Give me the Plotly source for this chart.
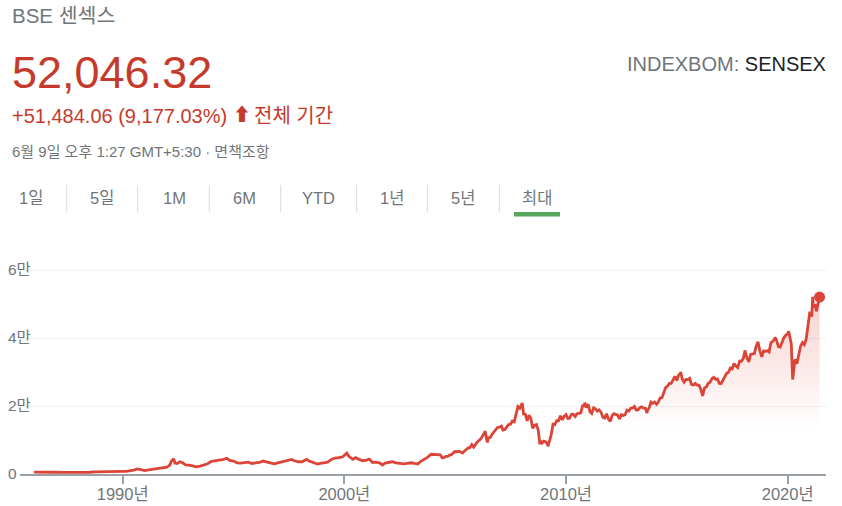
import pandas as pd
import plotly.graph_objects as go

# ---------------- data ----------------
early_dates = ["1986-01-02","1986-04-01","1986-07-01","1986-10-01","1987-01-01","1987-04-01","1987-07-01","1987-10-01",
               "1988-01-01","1988-04-01","1988-07-01","1988-10-01","1989-01-01","1989-04-01","1989-07-01","1989-10-01",
               "1990-01-01","1990-03-01","1990-05-01","1990-07-01","1990-09-01","1990-11-01","1991-01-01","1991-03-01",
               "1991-05-01","1991-07-01","1991-09-01","1991-11-01","1992-01-01","1992-02-15","1992-03-15","1992-04-22",
               "1992-05-10","1992-06-15","1992-08-01","1992-09-15","1992-11-01","1993-01-01","1993-03-01","1993-05-01",
               "1993-07-01","1993-09-01","1993-11-01","1994-01-01","1994-03-01","1994-05-01","1994-07-01","1994-09-12",
               "1994-11-01","1995-01-01","1995-03-01","1995-05-01","1995-07-01","1995-09-01","1995-11-01","1996-01-01",
               "1996-03-01","1996-05-01","1996-07-01","1996-09-01","1996-11-01","1997-01-01","1997-03-01","1997-05-01",
               "1997-07-01","1997-08-15","1997-10-01","1997-12-01","1998-02-01","1998-04-20","1998-06-01","1998-08-01",
               "1998-10-15","1998-12-01","1999-02-01","1999-04-01","1999-06-01","1999-08-01","1999-10-01","1999-12-01",
               "2000-02-11","2000-03-15","2000-05-20","2000-07-01","2000-09-01","2000-11-01","2001-01-01","2001-02-15",
               "2001-04-10","2001-06-01","2001-08-01","2001-09-21","2001-11-01","2002-01-01","2002-03-01","2002-05-01",
               "2002-07-01","2002-09-01","2002-11-01","2003-01-01","2003-03-01","2003-04-25","2003-06-01","2003-08-01",
               "2003-10-01","2003-12-01"]
early_values = [562, 600, 640, 560, 520, 480, 470, 440,
                400, 440, 520, 620, 690, 720, 780, 760,
                800, 780, 900, 1150, 1500, 1150, 1000, 1200,
                1350, 1400, 1750, 1850, 2000, 2600, 3800, 4467,
                3200, 3100, 3600, 3300, 2700, 2600, 2300, 2100,
                2300, 2600, 3000, 3700, 3800, 3900, 4200, 4600,
                4000, 3800, 3300, 3200, 3400, 3500, 3100, 3200,
                3400, 3800, 3600, 3300, 3000, 3300, 3600, 3800,
                4200, 4300, 3900, 3600, 3600, 4300, 3800, 3300,
                2900, 3100, 3300, 3500, 4300, 4700, 4800, 5000,
                6150, 5200, 4300, 4800, 4300, 3900, 4100, 4400,
                3400, 3500, 3300, 2650, 3200, 3300, 3600, 3300,
                3100, 3000, 3100, 3300, 3100, 2950, 3600, 4200,
                4900, 5800]

monthly_start = "2004-01-31"
monthly_values = [
    5696, 5667, 5591, 5655, 4760, 4795, 5170, 5192, 5584, 5672, 6234, 6603,
    6556, 6714, 6493, 6154, 6715, 7194, 7635, 7805, 8634, 7892, 8789, 9398,
    9920, 10370, 11280, 12043, 10399, 10609, 10744, 11699, 12454, 12962, 13696, 13787,
    14091, 12938, 13072, 13872, 14544, 14651, 15551, 15319, 17291, 19838, 19363, 20287,
    17649, 17579, 15644, 17287, 16416, 13462, 14356, 14565, 12860, 9788, 9093, 9647,
    9424, 8892, 9709, 11403, 14625, 14494, 15670, 15667, 17127, 15896, 16926, 17465,
    16358, 16430, 17528, 17559, 16945, 17701, 17868, 17971, 20069, 20032, 19521, 20509,
    18328, 17823, 19445, 19136, 18503, 18846, 18197, 16677, 16454, 17705, 16123, 15455,
    17194, 17753, 17404, 17319, 16219, 17430, 17236, 17430, 18763, 18505, 19340, 19427,
    19895, 18862, 18836, 19504, 19760, 19396, 19346, 18620, 19380, 21165, 20792, 21171,
    20514, 21120, 22386, 22418, 24217, 25414, 25895, 26638, 26631, 27866, 28694, 27499,
    29183, 29362, 27957, 27011, 27828, 27781, 28115, 26283, 26155, 26657, 26146, 26118,
    24871, 23002, 25342, 25607, 26668, 26999, 28052, 28452, 27866, 27930, 26653, 26626,
    27656, 28743, 29621, 29918, 31146, 30922, 32515, 31730, 31284, 33213, 33149, 34057,
    35965, 34184, 32969, 35160, 35322, 35423, 37607, 38645, 36227, 34442, 36194, 36068,
    36257, 35867, 38673, 39032, 39714, 39395, 37481, 37333, 38667, 40129, 40794, 41254,
    40723, 38297, 29468, 33717, 32424, 34916, 37607, 38628, 38068, 39614, 44150, 47751,
    46286, 49100, 49509, 48782, 51937]

extreme_dates = ["2006-05-10", "2006-06-14", "2008-01-10", "2008-10-27", "2009-03-09", "2010-11-05",
                 "2013-08-28", "2015-03-04", "2016-02-29", "2018-01-29", "2018-08-29", "2019-06-03",
                 "2020-01-17", "2020-03-23", "2021-02-16", "2021-04-19"]
extreme_values = [12600, 9300, 20873, 8700, 8160, 21005,
                  17900, 30024, 22950, 36400, 38900, 40200,
                  42000, 27800, 52100, 47900]

last_date = "2021-06-09"
last_value = 52046.32

y_tick_vals = [0, 20000, 40000, 60000]
y_tick_text = ["0", "2만", "4만", "6만"]
x_tick_vals = ["1990-01-01", "2000-01-01", "2010-01-01", "2020-01-01"]
x_tick_text = ["1990년", "2000년", "2010년", "2020년"]

title_text = "BSE 센섹스"
price_text = "52,046.32"
change_text = "+51,484.06 (9,177.03%)"
period_text = "전체 기간"
time_text = "6월 9일 오후 1:27 GMT+5:30 · 면책조항"
exchange_text = "INDEXBOM:"
ticker_text = "SENSEX"
tab_labels = ["1일", "5일", "1M", "6M", "YTD", "1년", "5년", "최대"]

# ---------------- assemble series ----------------
monthly_dates = pd.date_range(monthly_start, periods=len(monthly_values), freq="ME")
df = pd.concat([
    pd.DataFrame({"d": pd.to_datetime(early_dates), "v": early_values}),
    pd.DataFrame({"d": monthly_dates, "v": monthly_values}),
    pd.DataFrame({"d": pd.to_datetime(extreme_dates), "v": extreme_values}),
    pd.DataFrame({"d": pd.to_datetime([last_date]), "v": [last_value]}),
]).sort_values("d").reset_index(drop=True)

# ---------------- layout geometry (pixels) ----------------
W, H = 842, 506
L, R, T, B = 20, 16, 262, 32
PW, PH = W - L - R, H - T - B

RED = "#db4437"
TXT_RED = "#c63a2c"
GREY = "#70757a"
FONT = "Arial, 'Liberation Sans', 'Noto Sans CJK KR', sans-serif"


def px(x):
    return (x - L) / PW


def py(y):
    return (H - B - y) / PH


fig = go.Figure()
fig.add_trace(go.Scatter(
    x=df["d"], y=df["v"], mode="lines",
    line=dict(color=RED, width=2.8),
    fill="tozeroy",
    fillgradient=dict(type="vertical",
                      colorscale=[[0, "rgba(219,68,55,0)"], [1, "rgba(219,68,55,0.24)"]],
                      start=13500, stop=52000),
    hoverinfo="skip", showlegend=False,
))
fig.add_trace(go.Scatter(
    x=[df["d"].iloc[-1]], y=[df["v"].iloc[-1]], mode="markers",
    marker=dict(color=RED, size=11), hoverinfo="skip", showlegend=False,
))

annotations = []


def ann(text, x, y, size, color, xanchor="left"):
    annotations.append(dict(
        text=text, xref="paper", yref="paper", x=px(x), y=py(y),
        xanchor=xanchor, yanchor="middle", showarrow=False,
        font=dict(size=size, color=color, family=FONT)))


ann(title_text, 10, 16, 20.5, GREY)
ann(price_text, 10, 72, 45, TXT_RED)
ann(change_text, 10, 116, 20, TXT_RED)
ann("⬆", 230.5, 115, 18, TXT_RED)
ann(period_text, 252, 116, 20, TXT_RED)
ann(time_text, 10, 151, 15, GREY)
ann(exchange_text + " <span style='color:#202124'>" + ticker_text + "</span>", 828, 64, 20, GREY, "right")

tab_centers = [31, 102, 174, 244.5, 318, 392, 463, 537]
for lab, cx in zip(tab_labels, tab_centers):
    ann(lab, cx, 198, 16.5, GREY, "center")

shapes = []
for sx in [66.7, 137.7, 209.3, 280.7, 356.7, 427.3, 499.3]:
    shapes.append(dict(type="line", xref="paper", yref="paper",
                       x0=px(sx), x1=px(sx), y0=py(185), y1=py(212),
                       line=dict(color="#dadce0", width=1)))
shapes.append(dict(type="rect", xref="paper", yref="paper",
                   x0=px(514), x1=px(560), y0=py(212), y1=py(216.5),
                   fillcolor="#57a85e", line=dict(width=0)))

fig.update_layout(
    width=W, height=H,
    margin=dict(l=L, r=R, t=T, b=B, autoexpand=False),
    paper_bgcolor="white", plot_bgcolor="white",
    font=dict(family=FONT, color=GREY),
    annotations=annotations, shapes=shapes,
    xaxis=dict(
        type="date",
        range=["1985-05-15", "2021-09-23"],
        tickvals=x_tick_vals, ticktext=x_tick_text,
        showgrid=False, zeroline=False, automargin=False,
        showline=True, linecolor="#9aa0a6", linewidth=2,
        ticks="outside", ticklen=8, tickcolor="#9aa0a6", tickwidth=1.5,
        ticklabelstandoff=-4,
        tickfont=dict(size=16.5, color=GREY),
        fixedrange=True,
    ),
    yaxis=dict(
        range=[0, 62353],
        tickvals=y_tick_vals, ticktext=y_tick_text,
        showgrid=True, gridcolor="#f0f0f0", gridwidth=1,
        zeroline=False, showline=False, ticks="", automargin=False,
        ticklabelposition="inside", ticklabelstandoff=-15,
        ticklabeloverflow="allow",
        tickfont=dict(size=15.5, color=GREY),
        fixedrange=True,
    ),
)

fig.write_html("out.html", config={"displayModeBar": False},
               post_script="document.body.style.margin='0px';")
